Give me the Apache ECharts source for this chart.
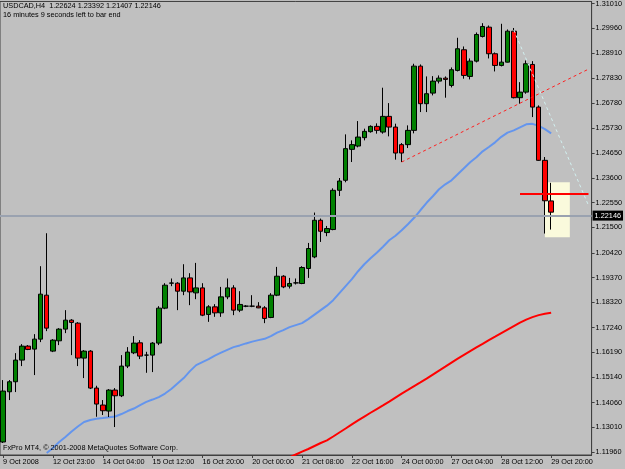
<!DOCTYPE html>
<html>
<head>
<meta charset="utf-8">
<script src="https://cdn.jsdelivr.net/npm/echarts@6/dist/echarts.min.js"></script>
<style>
  html, body { margin: 0; padding: 0; background: #c0c0c0; }
  #chart { width: 625px; height: 469px; }
</style>
</head>
<body>
<div id="chart"></div>
<script>
// USDCAD H4 bars
const opens = [
  1.12383, 1.14517, 1.14942, 1.15862, 1.16456, 1.16329, 1.16753, 1.18620, 1.16244, 1.16681,
  1.17178, 1.17559, 1.17432, 1.15947, 1.16244, 1.14674, 1.13953, 1.13698, 1.14589, 1.14347,
  1.15608, 1.16172, 1.16596, 1.16074, 1.16074, 1.16584, 1.18069, 1.19129, 1.19129, 1.18790,
  1.19354, 1.18718, 1.18930, 1.17801, 1.18124, 1.17869, 1.18548, 1.18930, 1.17984, 1.18153,
  1.18153, 1.18153, 1.18081, 1.17674, 1.18620, 1.19426, 1.19002, 1.19142, 1.19117, 1.19753,
  1.20245, 1.21802, 1.21280, 1.21408, 1.23075, 1.23500, 1.24815, 1.24955, 1.25311, 1.25566,
  1.25791, 1.25549, 1.26215, 1.25761, 1.25014, 1.25014, 1.25621, 1.28349, 1.26754, 1.27204,
  1.27713, 1.27840, 1.27530, 1.28167, 1.29045, 1.27912, 1.28562, 1.29610, 1.30004, 1.28876,
  1.28379, 1.28519, 1.29834, 1.27009, 1.27246, 1.28421, 1.26610, 1.24348, 1.22624
]
const closes = [
  1.14547, 1.14942, 1.15862, 1.16456, 1.16316, 1.16753, 1.18663, 1.17220, 1.16711, 1.17178,
  1.17559, 1.17462, 1.15947, 1.16244, 1.14674, 1.13995, 1.13711, 1.14589, 1.14347, 1.15608,
  1.16202, 1.16584, 1.16032, 1.16074, 1.16584, 1.18069, 1.19044, 1.19139, 1.18790, 1.19354,
  1.18760, 1.18930, 1.17772, 1.18124, 1.17869, 1.18548, 1.18930, 1.17984, 1.18226, 1.18153,
  1.18153, 1.18081, 1.17632, 1.18620, 1.19426, 1.18972, 1.19117, 1.19142, 1.19796, 1.20602,
  1.21802, 1.21336, 1.21450, 1.23075, 1.23470, 1.24845, 1.25014, 1.25337, 1.25579, 1.25791,
  1.25621, 1.26215, 1.25761, 1.24658, 1.24658, 1.25621, 1.28349, 1.26754, 1.27178, 1.27713,
  1.27840, 1.27785, 1.28197, 1.29088, 1.27955, 1.28562, 1.29694, 1.30034, 1.28876, 1.28379,
  1.28519, 1.29834, 1.27009, 1.27246, 1.28451, 1.26610, 1.24348, 1.22630, 1.22146
]
const lows = [
  1.12341, 1.14165, 1.14504, 1.15608, 1.16286, 1.15226, 1.16626, 1.17093, 1.16202, 1.16499,
  1.17008, 1.16074, 1.15608, 1.15098, 1.14632, 1.13457, 1.13529, 1.13444, 1.13019, 1.14292,
  1.15523, 1.16117, 1.15905, 1.15323, 1.15353, 1.16499, 1.18026, 1.19002, 1.17984, 1.18620,
  1.18196, 1.18450, 1.17729, 1.17487, 1.17700, 1.17700, 1.18450, 1.17772, 1.17899, 1.18111,
  1.18111, 1.18069, 1.17432, 1.17644, 1.18578, 1.18917, 1.18904, 1.19074, 1.19087, 1.19354,
  1.20190, 1.20882, 1.21124, 1.21378, 1.22833, 1.23415, 1.24276, 1.24900, 1.25197, 1.25524,
  1.25481, 1.25481, 1.25367, 1.24378, 1.24276, 1.24870, 1.25494, 1.26398, 1.26398, 1.27106,
  1.27615, 1.27009, 1.27446, 1.28124, 1.27815, 1.27785, 1.28506, 1.29567, 1.28676, 1.28124,
  1.28337, 1.28506, 1.26979, 1.26754, 1.27178, 1.26185, 1.24327, 1.21238, 1.21407
]
const highs = [
  1.15014, 1.15014, 1.16159, 1.16541, 1.16499, 1.16965, 1.19851, 1.21251, 1.16753, 1.17220,
  1.17984, 1.17602, 1.17475, 1.16286, 1.16286, 1.14772, 1.14165, 1.14632, 1.14674, 1.16074,
  1.16414, 1.16881, 1.16711, 1.16215, 1.16626, 1.18153, 1.19129, 1.19329, 1.19172, 1.19935,
  1.19554, 1.19991, 1.19129, 1.18196, 1.18238, 1.18972, 1.19329, 1.19044, 1.18790, 1.18196,
  1.18620, 1.18323, 1.18153, 1.18705, 1.19821, 1.19469, 1.19354, 1.19329, 1.19851, 1.20839,
  1.22129, 1.21875, 1.21561, 1.23160, 1.23597, 1.25451, 1.25197, 1.26016, 1.25693, 1.25833,
  1.25918, 1.27433, 1.26779, 1.25905, 1.25082, 1.25833, 1.28451, 1.28421, 1.27912, 1.27925,
  1.27955, 1.27912, 1.28294, 1.29554, 1.29185, 1.28676, 1.29779, 1.30174, 1.30076, 1.28931,
  1.30148, 1.29907, 1.29970, 1.27670, 1.28591, 1.28562, 1.26682, 1.24488, 1.23392
]

// moving averages ('-' where the line is not drawn)
const maFast = [
  '-', '-', '-', '-', '-', '-', '-', 1.11916, 1.12128, 1.12383,
  1.12595, 1.12828, 1.13041, 1.13232, 1.13316, 1.13372, 1.13401, 1.13431, 1.13465, 1.13571,
  1.13698, 1.13804, 1.13953, 1.14088, 1.14186, 1.14292, 1.14441, 1.14632, 1.14865, 1.15098,
  1.15395, 1.15650, 1.15777, 1.15905, 1.16053, 1.16180, 1.16299, 1.16414, 1.16486, 1.16571,
  1.16647, 1.16711, 1.16766, 1.16881, 1.17029, 1.17135, 1.17262, 1.17347, 1.17432, 1.17602,
  1.17793, 1.17984, 1.18175, 1.18408, 1.18705, 1.19002, 1.19299, 1.19638, 1.19935, 1.20190,
  1.20423, 1.20678, 1.20954, 1.21145, 1.21378, 1.21633, 1.21908, 1.22227, 1.22545, 1.22821,
  1.23118, 1.23330, 1.23500, 1.23754, 1.24009, 1.24263, 1.24475, 1.24730, 1.24913, 1.25112,
  1.25345, 1.25524, 1.25621, 1.25748, 1.25876, 1.25897, 1.25812, 1.25676, 1.25494
]
const maSlow = [
  '-', '-', '-', '-', '-', '-', '-', '-', '-', '-',
  '-', '-', '-', '-', '-', '-', '-', '-', '-', '-',
  '-', '-', '-', '-', '-', '-', '-', '-', '-', '-',
  '-', '-', '-', '-', '-', '-', '-', '-', '-', '-',
  '-', '-', '-', '-', '-', '-', 1.11734, 1.11853, 1.11971, 1.12086,
  1.12213, 1.12341, 1.12455, 1.12616, 1.12786, 1.12956, 1.13134, 1.13304, 1.13465, 1.13626,
  1.13783, 1.13940, 1.14101, 1.14271, 1.14441, 1.14598, 1.14759, 1.14916, 1.15077, 1.15247,
  1.15417, 1.15586, 1.15756, 1.15926, 1.16087, 1.16244, 1.16401, 1.16554, 1.16711, 1.16859,
  1.17008, 1.17157, 1.17305, 1.17453, 1.17581, 1.17687, 1.17772, 1.17827, 1.17869
]

// x labels, one every 8 bars
const timeLabels = [
  '9 Oct 2008', '12 Oct 23:00', '14 Oct 04:00', '15 Oct 12:00', '16 Oct 20:00', '20 Oct 00:00',
  '21 Oct 08:00', '22 Oct 16:00', '24 Oct 00:00', '27 Oct 04:00', '28 Oct 12:00', '29 Oct 20:00'
]
const labelEvery = 8
const priceTicks = [
  1.31010, 1.29960, 1.28910, 1.27830, 1.26780, 1.25730, 1.24650, 1.23600, 1.22550, 1.21500,
  1.20420, 1.19370, 1.18320, 1.17240, 1.16190, 1.15140, 1.14060, 1.13010, 1.11960
]

// objects drawn on the chart: [barIndex, price]
const trendLine = [[64, 1.24276], [94, 1.28222]]
const channelLine = [[82, 1.29885], [94, 1.22430]]
const levelLine = [[83, 1.22935], [94, 1.22935]]
const highlightBox = [[87, 1.23415], [91, 1.21081]]

const slots = 95 // bars plus the empty shift on the right
const categories = []
for (let i = 0; i < slots; i++) categories.push(String(i))

const candles = opens.map((o, i) => [o, closes[i], lows[i], highs[i]])
const last = opens.length - 1
const font = 'Liberation Sans'
const fs = 7.3

const chart = echarts.init(document.getElementById('chart'))
chart.setOption({
  animation: false,
  backgroundColor: '#c0c0c0',
  grid: {
    left: 0,
    right: 31,
    top: 1,
    bottom: 14,
    show: true,
    borderColor: '#404040',
    borderWidth: 1,
    backgroundColor: '#c0c0c0'
  },
  xAxis: {
    type: 'category',
    data: categories,
    boundaryGap: true,
    axisLine: { show: true, lineStyle: { color: '#404040' } },
    axisTick: {
      show: true,
      alignWithLabel: true,
      length: 3,
      interval: (i) => i % labelEvery === 0 && i / labelEvery < timeLabels.length,
      lineStyle: { color: '#404040' }
    },
    axisLabel: {
      interval: (i) => i % labelEvery === 0 && i / labelEvery < timeLabels.length,
      formatter: (v, i) => timeLabels[i / labelEvery] || '',
      align: 'left',
      margin: 3,
      color: '#000',
      fontFamily: font,
      fontSize: fs
    },
    splitLine: { show: false }
  },
  yAxis: {
    type: 'value',
    position: 'right',
    min: 1.11831,
    max: 1.31095,
    scale: true,
    axisLine: { show: true, lineStyle: { color: '#404040' } },
    axisTick: { show: true, length: 3, customValues: priceTicks, lineStyle: { color: '#404040' } },
    axisLabel: {
      customValues: priceTicks,
      formatter: (v) => v.toFixed(5),
      margin: 4,
      color: '#000',
      fontFamily: font,
      fontSize: fs
    },
    splitLine: { show: false }
  },
  graphic: [
    {
      type: 'text', left: 3, top: 2,
      style: {
        text: 'USDCAD,H4  ' + [opens[last], highs[last], lows[last], closes[last]].map(v => v.toFixed(5)).join(' '),
        fill: '#000', font: fs + 'px "' + font + '"'
      }
    },
    {
      type: 'text', left: 3, top: 11,
      style: { text: '16 minutes 9 seconds left to bar end', fill: '#000', font: fs + 'px "' + font + '"' }
    },
    {
      type: 'text', left: 3, top: 444, z: 100,
      style: { text: 'FxPro MT4, \u00a9 2001-2008 MetaQuotes Software Corp.', fill: '#000', font: fs + 'px "' + font + '"' }
    }
  ],
  series: [
    {
      type: 'candlestick',
      data: candles,
      barWidth: 5,
      itemStyle: {
        color: '#008000',
        color0: '#ff0000',
        borderColor: '#000',
        borderColor0: '#000',
        borderColorDoji: '#000',
        borderWidth: 1
      },
      markArea: {
        silent: true,
        itemStyle: { color: '#fafadc' },
        data: [[{ coord: highlightBox[0] }, { coord: highlightBox[1] }]]
      },
      markLine: {
        silent: true,
        symbol: 'none',
        label: { show: false },
        data: [
          {
            yAxis: closes[last],
            lineStyle: { color: '#9aa2b0', width: 2, type: 'solid' },
            label: {
              show: true,
              position: 'end',
              distance: 1,
              formatter: () => closes[last].toFixed(5),
              backgroundColor: '#000',
              color: '#fff',
              padding: [2, 2, 1, 2],
              fontFamily: font,
              fontSize: fs
            }
          },
          [
            { coord: levelLine[0], lineStyle: { color: '#ff0000', width: 2, type: 'solid' } },
            { coord: levelLine[1] }
          ],
          [
            { coord: trendLine[0], lineStyle: { color: '#ff2020', width: 1, type: [3, 3] } },
            { coord: trendLine[1] }
          ],
          [
            { coord: channelLine[0], lineStyle: { color: '#d2f0f0', width: 1, type: [3, 3] } },
            { coord: channelLine[1] }
          ]
        ]
      }
    },
    {
      type: 'line',
      data: maFast,
      symbol: 'none',
      lineStyle: { color: '#6495ed', width: 2 },
      z: 1
    },
    {
      type: 'line',
      data: maSlow,
      symbol: 'none',
      lineStyle: { color: '#ff0000', width: 2 },
      z: 1
    }
  ]
})
</script>
</body>
</html>
